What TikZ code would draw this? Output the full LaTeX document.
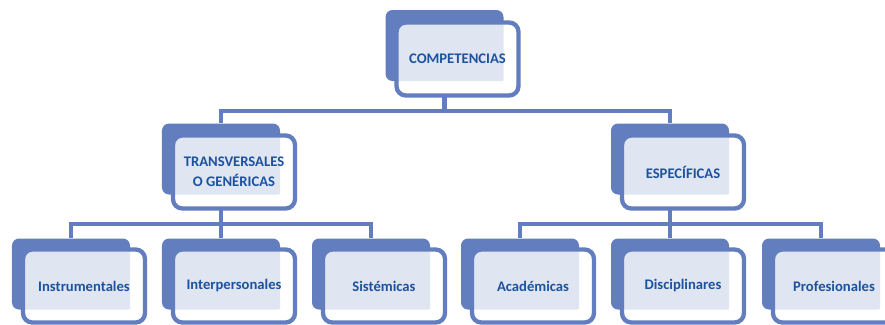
\documentclass[tikz,border=0pt]{standalone}
\usepackage{fontspec}
\setmainfont{Carlito}
\usepackage{tikz}
\usetikzlibrary{positioning}
\definecolor{boxblue}{RGB}{99,126,191}
\definecolor{textblue}{RGB}{28,82,160}
\definecolor{patblue}{RGB}{223,229,241}

\begin{document}
\begin{tikzpicture}[
    x=0.03cm, y=-0.03cm,
    back/.style={
        fill=boxblue,
        rounded corners=6pt,
        minimum width=3.54cm,
        minimum height=2.13cm,
        inner sep=0pt
    },
    front/.style={
        draw=boxblue,
        line width=0.13cm,
        fill=white,
        rounded corners=8pt,
        minimum width=3.66cm,
        minimum height=2.19cm,
        inner sep=0pt,
        align=center,
        text=textblue,
        font=\fontsize{12.5}{17}\selectfont\bfseries,
        path picture={
            \fill[patblue, rounded corners=2pt]
            (path picture bounding box.north west) rectangle (#1.south east);
        }
    },
    link/.style={draw=boxblue, line width=0.13cm}
]

\clip (0,0) rectangle (885,324);

% BACK CARDS
\node[back] (comp) at (444.5,45.5) {};

\node[back] (trans) at (221,159) {};
\node[back] (espe) at (670,159) {};

\node[back] (instr) at (71,274) {};
\node[back] (inter) at (221,274) {};
\node[back] (siste) at (371,274) {};
\node[back] (acad) at (520,274) {};
\node[back] (disci) at (670,274) {};
\node[back] (profe) at (821,274) {};

% CONNECTORS
\draw[link] (comp.south) -- ++(0,30) -| (trans.north);
\draw[link] (comp.south) -- ++(0,30) -| (espe.north);

\draw[link] (trans.south) -- ++(0,29) -| (instr.north);
\draw[link] (trans.south) -- ++(0,29) -| (inter.north);
\draw[link] (trans.south) -- ++(0,29) -| (siste.north);

\draw[link] (espe.south) -- ++(0,29) -| (acad.north);
\draw[link] (espe.south) -- ++(0,29) -| (disci.north);
\draw[link] (espe.south) -- ++(0,29) -| (profe.north);

% FRONT CARDS
\node[front=comp] (compf) at (457.5,59) {COMPETENCIAS};

\node[front=trans] (transf) at (234,172) {TRANSVERSALES\\O GENÉRICAS};
\node[front=espe] (espef) at (683,172) {ESPECÍFICAS};

\node[front=instr] (instrf) at (84,286) {Instrumentales};
\node[front=inter] (interf) at (234,286) {Interpersonales};
\node[front=siste] (sistef) at (384,286) {Sistémicas};
\node[front=acad] (acadf) at (533,286) {Académicas};
\node[front=disci] (discif) at (683,286) {Disciplinares};
\node[front=profe] (profef) at (834,286) {Profesionales};

\end{tikzpicture}
\end{document}
